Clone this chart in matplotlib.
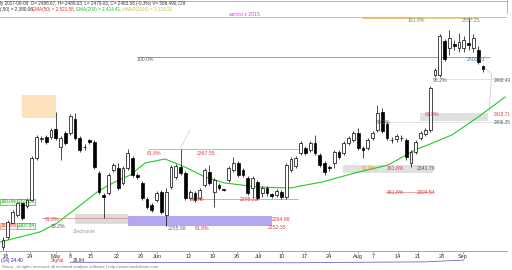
import matplotlib
matplotlib.use("Agg")
import matplotlib.pyplot as plt
from matplotlib.patches import Rectangle

plt.rcParams["font.family"] = ["Liberation Sans", "DejaVu Sans"]

# daily candles, Apr 18 - Sep 8 (index = trading day)
opens = [2226, 2240, 2260, 2272, 2289, 2285, 2294, 2355, 2382, 2385,
         2385, 2397, 2371, 2391, 2391, 2411, 2384, 2370, 2380, 2378,
         2333, 2301, 2304, 2337, 2340, 2318, 2340, 2355, 2330, 2318,
         2295, 2286, 2294, 2305, 2272, 2313, 2327, 2342, 2333, 2297,
         2304, 2297, 2315, 2334, 2305, 2315, 2309, 2323, 2337, 2347,
         2337, 2326, 2311, 2320, 2304, 2311, 2302, 2301, 2305, 2298,
         2337, 2343, 2362, 2369, 2366, 2376, 2359, 2347, 2341, 2347,
         2363, 2362, 2376, 2381, 2391, 2369, 2369, 2384, 2395, 2421,
         2404, 2381, 2382, 2383, 2381, 2347, 2363, 2384, 2389, 2395,
         2475, 2475, 2524, 2514, 2520, 2514, 2514, 2521, 2514, 2511,
         2488.67]
highs = [2240, 2265, 2279, 2292, 2292, 2297, 2357, 2388, 2386, 2388,
         2398, 2421, 2386, 2394, 2418, 2420, 2386, 2375, 2382, 2381,
         2336, 2304, 2333, 2347, 2347, 2343, 2368, 2357, 2333, 2321,
         2298, 2289, 2307, 2308, 2311, 2344, 2346, 2367.55, 2336, 2308,
         2307, 2311, 2340, 2344, 2326, 2318, 2310, 2343, 2356, 2350,
         2340, 2328, 2328, 2323, 2314, 2314, 2304, 2310, 2308, 2347,
         2356, 2357, 2379, 2372, 2379, 2388, 2362, 2350, 2344, 2366,
         2366, 2379, 2386, 2394, 2398, 2372, 2384, 2394, 2431, 2427,
         2407, 2385, 2389, 2388, 2384, 2366, 2381, 2394, 2398, 2459,
         2485, 2534, 2527, 2540, 2526, 2536, 2531, 2557.25, 2534, 2517,
         2489.03]
lows = [2221, 2237, 2257, 2269, 2265, 2282, 2291, 2352, 2378, 2375,
        2382, 2381, 2352, 2373, 2388, 2381, 2363, 2366, 2375, 2339,
        2302, 2268, 2301, 2334, 2308, 2315, 2337, 2327, 2324, 2294,
        2281, 2276, 2291, 2273, 2255.98, 2310, 2324, 2330, 2294, 2294,
        2291, 2294, 2312, 2315, 2284, 2308, 2307, 2320, 2334, 2327,
        2327, 2301, 2297, 2294, 2298, 2299, 2297, 2298, 2295, 2295,
        2334, 2340, 2359, 2359, 2363, 2359, 2342, 2330, 2336, 2340,
        2353, 2359, 2373, 2378, 2366, 2355, 2366, 2381, 2392, 2391,
        2381, 2376, 2378, 2379, 2352, 2341.79, 2360, 2381, 2386, 2392,
        2472, 2472, 2495, 2504, 2511, 2508, 2508, 2511, 2508, 2491,
        2479.03]
closes = [2236, 2262, 2276, 2289, 2268, 2294, 2355, 2385, 2383, 2378,
          2395, 2384, 2384, 2376, 2415, 2384, 2366, 2371, 2378, 2342,
          2305, 2298, 2330, 2344, 2311, 2340, 2362, 2330, 2327, 2297,
          2284, 2279, 2304, 2276, 2305, 2342, 2343, 2333, 2297, 2305,
          2294, 2308, 2337, 2318, 2323, 2311, 2308, 2340, 2347, 2330,
          2330, 2304, 2326, 2297, 2311, 2304, 2300, 2307, 2298, 2344,
          2353, 2355, 2376, 2362, 2376, 2362, 2344, 2334, 2340, 2363,
          2356, 2376, 2384, 2391, 2369, 2366, 2381, 2391, 2420, 2394,
          2384, 2380, 2386, 2384, 2356, 2363, 2378, 2391, 2395, 2456,
          2482, 2531, 2498, 2529, 2517, 2523, 2526, 2518, 2529, 2494,
          2483.58]

# 50-day average (day index, value)
sma_days = [-0.6, 3.5, 7.7, 11.25, 14, 16.7, 20.2, 22.9, 26.5, 29.6, 33.75,
            37.9, 42.1, 46.25, 53.1, 59.8, 66.5, 73.3, 80.2, 82.1, 85.8,
            89.0, 93.5, 99.0, 104.6]
sma_vals = [2232.7, 2240, 2247.3, 2260.3, 2274.8, 2289.3, 2308.2, 2318.3,
            2329.9, 2347.3, 2353.1, 2341.5, 2327, 2318.3, 2312.5, 2311,
            2319.8, 2332.8, 2344.4, 2351.6, 2366.2, 2374.9, 2387.9, 2414,
            2443]

tick_days = [0.6, 5.6, 11, 14, 18.3, 23.75, 28.75, 32.1, 38.75, 43.75, 48.75,
             53.3, 58.1, 62.9, 67.9, 74, 77.1, 82.3, 86.5, 91.5, 95.8]
tick_labels = ["18", "24", "May", "8", "15", "22", "29", "Jun", "12", "19",
               "26", "Jul", "10", "17", "24", "Aug", "7", "14", "21", "28",
               "Sep"]

W, H = 512, 270
fig = plt.figure(figsize=(W / 100, H / 100), dpi=100)
fig.patch.set_facecolor("white")

ax = fig.add_axes([0, (H - 251) / H, 507 / W, (251 - 12) / H])
ax.set_xlim(-0.625, 105)
ax.set_ylim(2219.7, 2566.25)
for s in ["left", "top", "right"]:
    ax.spines[s].set_visible(False)
ax.spines["bottom"].set_color("#999999")
ax.spines["bottom"].set_linewidth(0.6)
ax.set_yticks([])
ax.set_xticks(tick_days)
ax.set_xticklabels(tick_labels, fontsize=4, color="#333333")
ax.tick_params(axis="x", length=2, width=0.5, pad=0.5, color="#999999")

fs = 3.7

# shaded zones
ax.add_patch(Rectangle((3.96, 2412.5), 7.08, 33.4, facecolor="#fde3bd",
                       edgecolor="none", zorder=0))
ax.add_patch(Rectangle((15, 2258.8), 11, 14.6, facecolor="#dcdcdc",
                       edgecolor="none", zorder=0))
ax.add_patch(Rectangle((26, 2256), 30, 14.4, facecolor="#b6a6f2",
                       edgecolor="none", zorder=0))
ax.add_patch(Rectangle((70.8, 2332.8), 18.8, 11.6, facecolor="#e0e0e0",
                       edgecolor="none", zorder=0))
ax.add_patch(Rectangle((86.9, 2408.2), 14.1, 11.6, facecolor="#e0e0e0",
                       edgecolor="none", zorder=0))

# level lines
ax.axhline(2559, color="#f0a0f0", lw=0.7, zorder=1)
ax.hlines(2557.25, 75, 84.8, color="#f5b060", lw=1.2, zorder=1)
ax.hlines(2557.25, 84.8, 98.75, color="#d8d070", lw=1.2, zorder=1)
ax.hlines(2501.43, 27.9, 101.5, color="#a0a0a0", lw=0.7, zorder=1)
ax.hlines(2468.49, 91, 104.6, color="#b0b0b0", lw=0.5, ls=(0, (1, 1)), zorder=1)
ax.hlines(2406.35, 77.7, 104.6, color="#b0b0b0", lw=0.5, ls=(0, (1, 1)), zorder=1)
ax.hlines(2367.55, 30.2, 61.9, color="#e08080", lw=0.5, zorder=1)
ax.hlines(2295.22, 39, 61.5, color="#e08080", lw=0.5, zorder=1)
ax.hlines(2267.5, 8, 26, color="#e08080", lw=0.5, zorder=1)
ax.hlines(2304.54, 79.6, 89.6, color="#e08080", lw=0.5, zorder=1)
ax.plot([37, 38.9], [2369, 2395], color="#f0c0c0", lw=0.5, zorder=1)
ax.plot([100.3, 101.8, 101.3], [2486, 2476, 2424], color="#c8c8c8",
        lw=0.5, zorder=1)

# green moving average
ax.plot(sma_days, sma_vals, color="#22cc22", lw=0.8, zorder=2)

# candles
for i in range(len(opens)):
    o, h, l, c = opens[i], highs[i], lows[i], closes[i]
    ax.vlines(i, l, h, color="black", lw=0.5, zorder=3)
    lo, hi = min(o, c), max(o, c)
    if hi - lo < 0.8:
        hi = lo + 0.8
    face = "white" if c >= o else "black"
    ax.add_patch(Rectangle((i - 0.3, lo), 0.6, hi - lo, facecolor=face,
                           edgecolor="black", lw=0.5, zorder=4))

# labels
def lab(x, y, s, color, size=fs):
    ax.text(x, y, s, fontsize=size, color=color, va="center", ha="left",
            zorder=5)

lab(46.9, 2562, "wzrost z 2015", "#e040e0")
lab(84.2, 2554.5, "161.8%", "#8c8c50")
lab(95.6, 2554.5, "2557.25", "#8c8c50")
lab(27.9, 2498, "100.0%", "#4d6b6b")
lab(96.7, 2498, "2501.43", "#4a7a9a")
lab(89.6, 2467.5, "98.2%", "#555555")
lab(102.2, 2467.5, "2468.49", "#555555", 3.3)
lab(87.9, 2417, "61.8%", "#e04040")
lab(102.2, 2417, "2418.71", "#e04040", 3.3)
lab(77.7, 2405.3, "38.2%", "#555555")
lab(102.2, 2405.5, "2406.35", "#555555", 3.3)
lab(30, 2361, "61.8%", "#e04040")
lab(40.4, 2361, "2367.55", "#e04040")
lab(39, 2295, "61.8%", "#e04040")
lab(49.4, 2295, "2295.22", "#e04040")
lab(74.8, 2338.6, "61.8%", "#f09030")
lab(80, 2338.6, "161.8%", "#e04040")
lab(86.25, 2338.6, "2341.79", "#555555")
lab(80, 2303.8, "161.8%", "#e04040")
lab(86.25, 2303.8, "2304.54", "#e04040")
lab(56, 2264.7, "2264.98", "#e04040")
lab(55.2, 2253.8, "2252.35", "#e04040")
lab(34.4, 2253, "2255.98", "#4a7a9a")
lab(40, 2253, "61.8%", "#e04040")
lab(8.75, 2264.7, "61.8%", "#e04040")
lab(10, 2254.5, "38.2%", "#555555")
lab(14.5, 2248, "Zjednanie", "#a0a0a0")
box_g = dict(boxstyle="square,pad=0.1", fc="#e8f8e8", ec="#22aa22", lw=0.4)
box_r = dict(boxstyle="square,pad=0.1", fc="#fde8e0", ec="#e08040", lw=0.4)
ax.text(-0.5, 2290.8, "100.0%", fontsize=3.4, color="#22aa22", va="center",
        bbox=box_g)
ax.text(3.0, 2290.8, "2322.58", fontsize=3.4, color="#22aa22", va="center",
        bbox=box_g)
ax.text(-0.5, 2256.5, "161.8%", fontsize=3.4, color="#e04040", va="center",
        bbox=box_r)
ax.text(3.0, 2256.5, "2307.54", fontsize=3.4, color="#22aa22", va="center",
        bbox=box_g)

# header
hf = 3.3
fig.text(0, 1 - 3.5 / H, "ly 2017-09-08  O= 2488.67, H= 2489.03, L= 2479.03, "
         "C= 2483.58 (-0.3%) V= 589,490,728", fontsize=hf, color="#333333",
         va="center")
fig.text(0, 1 - 9.5 / H, "(,50) = 2,380.06,", fontsize=hf, color="#333333",
         va="center")
fig.text(32 / W, 1 - 9.5 / H, "EMA(50) = 2,521.58,", fontsize=hf,
         color="#e03030", va="center")
fig.text(76 / W, 1 - 9.5 / H, "EMA(200) = 2,414.41,", fontsize=hf,
         color="#20c020", va="center")
fig.text(122 / W, 1 - 9.5 / H, "VWAP(2016) = 2,219.20", fontsize=hf,
         color="#d0c020", va="center")
fig.add_artist(plt.Line2D([0, 507 / W], [1 - 0.8 / H, 1 - 0.8 / H],
                          color="#aaaaaa", lw=0.6))
fig.add_artist(plt.Line2D([507 / W, 507 / W], [1 - 13 / H, 1],
                          color="#aaaaaa", lw=0.6))

# lower indicator strip
ax2 = fig.add_axes([0, (H - 265) / H, 507 / W, 9 / H])
ax2.set_xlim(-0.625, 105)
ax2.set_ylim(0, 1)
ax2.axis("off")
ax2.plot([14, 60, 88, 96], [0.3, 0.25, 0.35, 0.55], color="#8060c0", lw=0.6)
ax2.text(-0.5, 0.5, "(14) 24.40", fontsize=3.4, color="#2020c0", va="center")
ax2.text(10, 0.5, "Signal", fontsize=3.4, color="#e03030", va="center")
ax2.text(14.5, 0.5, "29.84", fontsize=3.4, color="#333333", va="center")
fig.text(2 / W, 1 - 267 / H, "Stooq - all rights reserved, all technical "
         "analysis software | http://www.stockcharts.com", fontsize=3,
         color="#777777", va="center")

fig.savefig("out.png", dpi=100)
